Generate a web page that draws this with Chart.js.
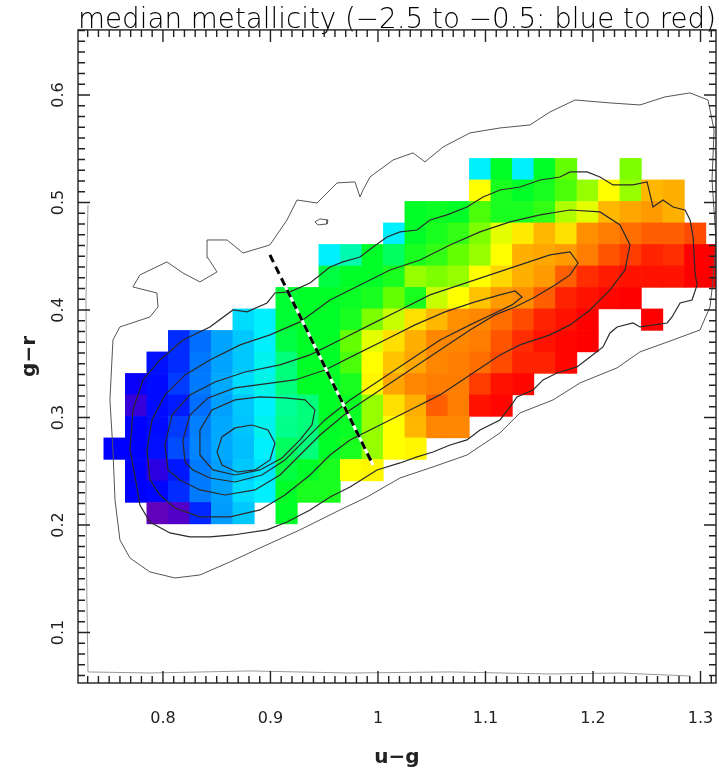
<!DOCTYPE html>
<html>
<head>
<meta charset="utf-8">
<script src="https://cdn.jsdelivr.net/npm/chart.js@4.4.1/dist/chart.umd.min.js"></script>
<style>
  html, body { margin: 0; padding: 0; background: #fff; }
  canvas { display: block; }
</style>
</head>
<body>
<canvas id="cmd" width="719" height="770"></canvas>
<script>
// ---- binned data: 0.02 mag bins in u-g (columns) and g-r (rows) ----
const BIN = 0.02;
const ugBins = [0.755, 0.775, 0.795, 0.815, 0.835, 0.855, 0.875, 0.895, 0.915, 0.935,
                0.955, 0.975, 0.995, 1.015, 1.035, 1.055, 1.075, 1.095, 1.115, 1.135,
                1.155, 1.175, 1.195, 1.215, 1.235, 1.255, 1.275, 1.295, 1.315];
const grBins = [0.531, 0.511, 0.491, 0.471, 0.451, 0.431, 0.411, 0.391, 0.371,
                0.351, 0.331, 0.311, 0.291, 0.271, 0.251, 0.231, 0.211];

// median [Fe/H] per bin, one row per g-r bin: [first u-g column, values...]
const fehRows = [
  [17, [-2.0, -1.6, -2.0, -1.6, -1.4, null, null, -1.35]],
  [17, [-1.1, -1.55, -1.6, -1.55, -1.45, -1.3, -1.1, -1.3, -0.92, -0.9]],
  [14, [-1.6, -1.58, -1.6, -1.45, -1.55, -1.55, -1.5, -1.25, -1.15, -0.92, -0.88, -0.85, -0.9]],
  [13, [-2.0, -1.6, -1.55, -1.5, -1.35, -1.15, -1.05, -0.92, -1.02, -0.82, -0.78, -0.75, -0.72, -0.72, -0.68]],
  [10, [-2.0, -1.85, -1.6, -1.7, -1.55, -1.5, -1.4, -1.3, -1.1, -0.9, -0.88, -0.85, -0.78, -0.7, -0.65, -0.6, -0.62, -0.5, -0.5]],
  [10, [-1.65, -1.6, -1.6, -1.55, -1.3, -1.35, -1.3, -1.1, -1.0, -0.9, -0.85, -0.72, -0.62, -0.58, -0.55, -0.55, -0.55, -0.5, -0.5]],
  [8,  [-1.62, -1.6, -1.6, -1.58, -1.55, -1.4, -1.55, -1.2, -1.1, -0.95, -0.85, -0.82, -0.72, -0.6, -0.55, -0.52, -0.5]],
  [6,  [-2.05, -2.0, -1.62, -1.6, -1.6, -1.55, -1.35, -1.2, -1.02, -0.92, -0.82, -0.8, -0.75, -0.68, -0.6, -0.55, -0.5, null, null, -0.5]],
  [3,  [-2.42, -2.3, -2.18, -2.1, -2.0, -1.65, -1.6, -1.6, -1.4, -1.15, -1.02, -0.9, -0.8, -0.8, -0.78, -0.7, -0.62, -0.55, -0.52, -0.5]],
  [2,  [-2.47, -2.42, -2.28, -2.18, -2.1, -1.97, -1.75, -1.6, -1.6, -1.45, -1.1, -0.95, -0.88, -0.8, -0.78, -0.75, -0.68, -0.6, -0.6, -0.52]],
  [1,  [-2.52, -2.48, -2.39, -2.27, -2.17, -2.05, -1.95, -1.75, -1.6, -1.6, -1.55, -1.08, -0.88, -0.8, -0.78, -0.78, -0.65, -0.55, -0.52]],
  [1,  [-2.6, -2.48, -2.45, -2.3, -2.19, -2.1, -2.0, -1.8, -1.75, -1.6, -1.58, -1.3, -1.02, -0.9, -0.72, -0.78, -0.55, -0.52]],
  [1,  [-2.5, -2.48, -2.39, -2.26, -2.17, -2.11, -1.97, -1.78, -1.75, -1.6, -1.58, -1.3, -1.1, -0.92, -0.8, -0.8]],
  [0,  [-2.5, -2.5, -2.47, -2.36, -2.25, -2.17, -2.12, -2.0, -1.7, -1.75, -1.6, -1.55, -1.3, -1.1, -1.08]],
  [1,  [-2.5, -2.58, -2.46, -2.27, -2.19, -2.1, -2.03, -1.65, -1.6, -1.55, -1.1, -1.08]],
  [1,  [-2.5, -2.49, -2.42, -2.27, -2.19, -2.05, -2.0, -1.6, -1.55, -1.55]],
  [2,  [-2.68, -2.65, -2.43, -2.2, -2.1, null, -1.6]],
];

// star-count contours (u-g, g-r), outermost first
const edgeContour = [[0.7303, 0.4977], [0.7284, 0.4093], [0.7293, 0.3163], [0.7284, 0.2233], [0.7293, 0.1302],
  [0.7303, 0.0633], [0.7879, 0.0623], [0.8809, 0.0642], [0.974, 0.0623], [1.067, 0.0633], [1.16, 0.0614],
  [1.2251, 0.0623], [1.2902, 0.0595]];
const outerContour = [[0.7535, 0.3721], [0.76, 0.3842], [0.7879, 0.3935], [0.7954, 0.4028], [0.7944, 0.4158],
  [0.7721, 0.4214], [0.7786, 0.4326], [0.8037, 0.4447], [0.8186, 0.4344], [0.8344, 0.4261], [0.8503, 0.4354],
  [0.8419, 0.4484], [0.841, 0.4651], [0.8596, 0.4651], [0.8745, 0.453], [0.8995, 0.4605], [0.9154, 0.4837],
  [0.9247, 0.5023], [0.9433, 0.4995], [0.9619, 0.5182], [0.9786, 0.5191], [0.9833, 0.5051], [0.9861, 0.5116],
  [0.9926, 0.5237], [1.014, 0.5395], [1.0326, 0.5461], [1.0437, 0.5377], [1.0605, 0.5516], [1.0856, 0.5647],
  [1.1135, 0.5693], [1.1414, 0.5721], [1.16, 0.5842], [1.1833, 0.5953], [1.2158, 0.5926], [1.2437, 0.5907],
  [1.267, 0.5982], [1.2902, 0.6019], [1.307, 0.5953], [1.3126, 0.5674], [1.3107, 0.5209], [1.3144, 0.4651],
  [1.3117, 0.4279], [1.3088, 0.4028], [1.2995, 0.3814], [1.2744, 0.3721], [1.2437, 0.361], [1.2223, 0.3461],
  [1.1879, 0.3321], [1.1628, 0.3163], [1.1321, 0.3042], [1.1135, 0.2856], [1.0828, 0.2651], [1.0512, 0.254],
  [1.0205, 0.2437], [0.9898, 0.226], [0.9647, 0.214], [0.9274, 0.1954], [0.8902, 0.1786], [0.8623, 0.1656],
  [0.8344, 0.1535], [0.8112, 0.1507], [0.7879, 0.1563], [0.7693, 0.1693], [0.76, 0.1861], [0.7554, 0.2233],
  [0.7535, 0.2698], [0.7507, 0.3163], [0.7535, 0.3721]];
const islandContour = [[0.9414, 0.4819], [0.9461, 0.4847], [0.9535, 0.4837], [0.9526, 0.48], [0.9442, 0.4791], [0.9414, 0.4819]];
const contour1 = [[0.7758, 0.2354], [0.7693, 0.2698], [0.7721, 0.307], [0.7814, 0.3349], [0.7972, 0.3535],
  [0.8186, 0.3721], [0.8437, 0.3842], [0.8651, 0.4], [0.8782, 0.3982], [0.8968, 0.4065], [0.9042, 0.4158],
  [0.9182, 0.4168], [0.9368, 0.4251], [0.9554, 0.44], [0.9675, 0.4447], [0.9833, 0.4493], [0.9954, 0.4586],
  [1.0084, 0.4679], [1.0205, 0.4726], [1.0363, 0.4744], [1.0484, 0.4837], [1.0642, 0.4884], [1.0828, 0.4958],
  [1.0977, 0.5051], [1.1135, 0.5116], [1.1321, 0.5144], [1.1507, 0.5209], [1.1693, 0.5237], [1.1786, 0.5284],
  [1.1944, 0.5284], [1.2065, 0.5237], [1.2186, 0.5163], [1.2372, 0.5163], [1.2503, 0.5191], [1.2558, 0.4958],
  [1.2651, 0.5023], [1.2744, 0.4958], [1.2856, 0.493], [1.2903, 0.4837], [1.2931, 0.4679], [1.2949, 0.4344],
  [1.2968, 0.4233], [1.2921, 0.4093], [1.281, 0.4065], [1.2735, 0.3935], [1.2689, 0.3879], [1.2437, 0.3842],
  [1.2372, 0.3879], [1.2224, 0.3842], [1.2158, 0.3786], [1.2093, 0.3656], [1.1972, 0.3563], [1.1851, 0.347],
  [1.1665, 0.3414], [1.1535, 0.3349], [1.1442, 0.3256], [1.1293, 0.3191], [1.1228, 0.3098], [1.1135, 0.2977],
  [1.0949, 0.2884], [1.0828, 0.2791], [1.067, 0.2744], [1.0512, 0.2679], [1.0363, 0.2633], [1.0205, 0.2577],
  [0.9991, 0.2512], [0.974, 0.2354], [0.9554, 0.2261], [0.9368, 0.214], [0.9154, 0.2028], [0.8968, 0.1954],
  [0.8651, 0.1907], [0.8437, 0.1889], [0.8251, 0.1889], [0.8065, 0.1926], [0.7879, 0.2028], [0.7786, 0.2186],
  [0.7758, 0.2354]];
const contour2 = [[0.7879, 0.2419], [0.7851, 0.2698], [0.7898, 0.2977], [0.8019, 0.321], [0.8205, 0.3396],
  [0.8437, 0.3535], [0.8717, 0.3675], [0.8996, 0.3768], [0.9275, 0.3889], [0.9554, 0.4093], [0.9833, 0.4233],
  [1.0112, 0.4372], [1.0391, 0.4465], [1.067, 0.4605], [1.0949, 0.4726], [1.1228, 0.4819], [1.1507, 0.4884],
  [1.1786, 0.493], [1.2065, 0.4912], [1.2251, 0.4791], [1.2344, 0.4605], [1.2298, 0.4372], [1.2158, 0.4186],
  [1.1972, 0.4], [1.1786, 0.3861], [1.16, 0.3768], [1.1321, 0.3675], [1.1135, 0.3582], [1.0856, 0.3396],
  [1.0577, 0.321], [1.0298, 0.307], [1.0019, 0.293], [0.974, 0.2791], [0.9554, 0.2651], [0.9368, 0.2465],
  [0.9135, 0.2279], [0.8903, 0.214], [0.8624, 0.2075], [0.8344, 0.2075], [0.8112, 0.2158], [0.7972, 0.2279],
  [0.7879, 0.2419]];
const contour3 = [[0.8047, 0.2512], [0.8019, 0.2744], [0.8084, 0.3023], [0.8251, 0.321], [0.8484, 0.333],
  [0.8763, 0.3423], [0.9089, 0.3489], [0.9368, 0.3582], [0.9647, 0.3721], [0.9926, 0.3861], [1.0205, 0.4],
  [1.0484, 0.414], [1.0763, 0.4233], [1.1042, 0.4326], [1.1321, 0.4419], [1.16, 0.4512], [1.1786, 0.454],
  [1.1861, 0.4437], [1.1786, 0.4326], [1.1647, 0.4233], [1.1461, 0.4121], [1.1275, 0.4028], [1.1089, 0.3954],
  [1.0856, 0.3814], [1.0577, 0.3628], [1.0298, 0.3442], [1.0019, 0.3256], [0.974, 0.307], [0.9461, 0.2837],
  [0.9275, 0.2651], [0.9089, 0.2465], [0.8856, 0.2326], [0.8577, 0.2279], [0.8344, 0.2326], [0.8158, 0.2419],
  [0.8047, 0.2512]];
const contour4 = [[0.8205, 0.2586], [0.8186, 0.2791], [0.8251, 0.3023], [0.8419, 0.3182], [0.867, 0.3275],
  [0.8949, 0.3312], [0.9228, 0.3349], [0.9507, 0.3442], [0.9786, 0.3582], [1.0065, 0.3721], [1.0344, 0.3861],
  [1.0624, 0.3982], [1.0903, 0.4075], [1.1135, 0.414], [1.1275, 0.4177], [1.134, 0.4121], [1.1247, 0.4047],
  [1.1089, 0.3972], [1.0856, 0.3861], [1.0577, 0.3721], [1.0298, 0.3535], [1.0019, 0.3349], [0.974, 0.3163],
  [0.9507, 0.2977], [0.9321, 0.2791], [0.9135, 0.2605], [0.8921, 0.2465], [0.867, 0.24], [0.8437, 0.2437],
  [0.8279, 0.2512], [0.8205, 0.2586]];
const contour5 = [[0.8344, 0.2651], [0.8344, 0.2884], [0.8456, 0.307], [0.867, 0.3163], [0.8903, 0.3191],
  [0.9135, 0.3182], [0.9321, 0.3163], [0.9414, 0.307], [0.9386, 0.293], [0.9275, 0.2791], [0.9107, 0.2623],
  [0.8903, 0.2512], [0.867, 0.2465], [0.8465, 0.2512], [0.8344, 0.2651]];
const contour6 = [[0.8503, 0.2679], [0.8549, 0.2819], [0.867, 0.2903], [0.8828, 0.293], [0.8977, 0.2884],
  [0.9042, 0.2763], [0.8996, 0.2605], [0.8856, 0.2512], [0.8689, 0.2493], [0.8549, 0.2558], [0.8503, 0.2679]];

// dividing line drawn across the locus
const cutLine = [[0.8995, 0.4512], [0.9954, 0.2558]];

const ugTicks = [0.8, 0.9, 1.0, 1.1, 1.2, 1.3];
const grTicks = [0.1, 0.2, 0.3, 0.4, 0.5, 0.6];

// ---- colour table: [Fe/H] -> rainbow, -2.5 blue to -0.5 red ----
const CMAP = [
  [-2.7, [110, 0, 180]], [-2.5, [0, 0, 255]], [-2.3, [0, 110, 255]], [-2.1, [0, 200, 255]],
  [-2.0, [0, 240, 255]], [-1.8, [0, 255, 150]], [-1.6, [0, 255, 40]], [-1.4, [100, 255, 0]],
  [-1.2, [200, 255, 0]], [-1.1, [255, 255, 0]], [-1.0, [255, 215, 0]], [-0.9, [255, 175, 0]],
  [-0.8, [255, 135, 0]], [-0.7, [255, 85, 0]], [-0.6, [255, 35, 0]], [-0.5, [255, 0, 0]],
];
function fehColor(v) {
  if (v <= CMAP[0][0]) return `rgb(${CMAP[0][1].join(",")})`;
  for (let i = 1; i < CMAP.length; i++) {
    const [v1, c1] = CMAP[i];
    if (v <= v1) {
      const [v0, c0] = CMAP[i - 1];
      const t = (v - v0) / (v1 - v0);
      const c = c0.map((a, k) => Math.round(a + t * (c1[k] - a)));
      return `rgb(${c.join(",")})`;
    }
  }
  return "rgb(255,0,0)";
}

const cells = [];
fehRows.forEach(([c0, vals], r) => {
  vals.forEach((v, i) => {
    if (v !== null) cells.push({ x: ugBins[c0 + i], y: grBins[r], v });
  });
});

const toXY = (pts) => pts.map(([x, y]) => ({ x, y }));

// square marker that covers exactly one bin
function cellRadius(ctx) {
  const xs = ctx.chart.scales.x;
  const side = Math.abs(xs.getPixelForValue(BIN) - xs.getPixelForValue(0)) + 0.6;
  return side / Math.SQRT2;
}

function contourSet(pts, color, width) {
  return {
    type: "scatter", data: toXY(pts), showLine: true, borderColor: color, borderWidth: width,
    pointRadius: 0, fill: false, tension: 0, clip: 0, order: 2,
  };
}

const tickFont = { family: "DejaVu Sans", size: 16 };
const fmtTick = (v) => String(+Number(v).toFixed(2));

// frame with IDL-style inward ticks on all four sides
const frameTicks = {
  id: "frameTicks",
  afterDatasetsDraw(chart) {
    const { ctx, chartArea: a, scales: { x, y } } = chart;
    ctx.save();
    ctx.strokeStyle = "#222";
    ctx.lineWidth = 1.4;
    ctx.strokeRect(a.left, a.top, a.right - a.left, a.bottom - a.top);
    ctx.beginPath();
    for (let i = 73; i <= 131; i++) {
      const px = x.getPixelForValue(i / 100);
      const len = i % 10 === 0 ? 12 : 7;
      ctx.moveTo(px, a.bottom); ctx.lineTo(px, a.bottom - len);
      ctx.moveTo(px, a.top); ctx.lineTo(px, a.top + len);
    }
    for (let j = 6; j <= 66; j++) {
      const py = y.getPixelForValue(j / 100);
      const len = j % 10 === 0 ? 12 : 7;
      ctx.moveTo(a.left, py); ctx.lineTo(a.left + len, py);
      ctx.moveTo(a.right, py); ctx.lineTo(a.right - len, py);
    }
    ctx.stroke();
    ctx.restore();
  },
};

new Chart(document.getElementById("cmd"), {
  type: "scatter",
  data: {
    datasets: [
      // dashed cut, white underlay first so the gaps read white
      { data: toXY(cutLine), showLine: true, borderColor: "#000", borderWidth: 3, borderDash: [8, 5],
        pointRadius: 0, order: 0 },
      { data: toXY(cutLine), showLine: true, borderColor: "#fff", borderWidth: 3,
        pointRadius: 0, order: 1 },
      contourSet(contour6, "#2a2a2a", 1.2),
      contourSet(contour5, "#2a2a2a", 1.2),
      contourSet(contour4, "#2a2a2a", 1.2),
      contourSet(contour3, "#2a2a2a", 1.2),
      contourSet(contour2, "#2a2a2a", 1.2),
      contourSet(contour1, "#2a2a2a", 1.2),
      contourSet(islandContour, "#555", 1),
      contourSet(outerContour, "#555", 1),
      contourSet(edgeContour, "#999", 1),
      {
        data: cells, pointStyle: "rect", pointRadius: cellRadius, pointBorderWidth: 0,
        pointBackgroundColor: (ctx) => fehColor(ctx.raw ? ctx.raw.v : -1.5),
        clip: 0, order: 3,
      },
    ],
  },
  options: {
    responsive: false,
    animation: false,
    events: [],
    layout: { padding: { left: 0, right: 3, top: 0, bottom: 0 } },
    plugins: {
      legend: { display: false },
      tooltip: { enabled: false },
      title: {
        display: true, fullSize: false,
        text: "median metallicity (\u22122.5 to \u22120.5: blue to red)",
        color: "#000", font: { family: "DejaVu Sans", size: 28, weight: 300, lineHeight: 0.64 },
        padding: { top: 12, bottom: 0 },
      },
    },
    scales: {
      x: {
        type: "linear", min: 0.721, max: 1.3144,
        afterBuildTicks: (s) => { s.ticks = ugTicks.map((v) => ({ value: v })); },
        afterFit: (s) => { s.height = 87; s.paddingLeft = 0; s.paddingRight = 0; },
        grid: { display: false, drawTicks: false },
        border: { display: false },
        ticks: { callback: fmtTick, font: tickFont, color: "#222", padding: 26, maxRotation: 0 },
        title: { display: true, text: "u\u2212g", color: "#222",
                 font: { family: "DejaVu Sans", size: 20, weight: "bold" }, padding: { top: 0, bottom: 0 } },
      },
      y: {
        type: "linear", min: 0.053, max: 0.6605,
        afterBuildTicks: (s) => { s.ticks = grTicks.map((v) => ({ value: v })); },
        afterFit: (s) => { s.width = 78; s.paddingTop = 0; s.paddingBottom = 0; },
        grid: { display: false, drawTicks: false },
        border: { display: false },
        ticks: { callback: fmtTick, font: tickFont, color: "#222", padding: 6,
                 minRotation: 90, maxRotation: 90, crossAlign: "center" },
        title: { display: true, text: "g\u2212r", color: "#222",
                 font: { family: "DejaVu Sans", size: 20, weight: "bold" }, padding: { top: 18, bottom: 0 } },
      },
    },
  },
  plugins: [frameTicks],
});
</script>
</body>
</html>
